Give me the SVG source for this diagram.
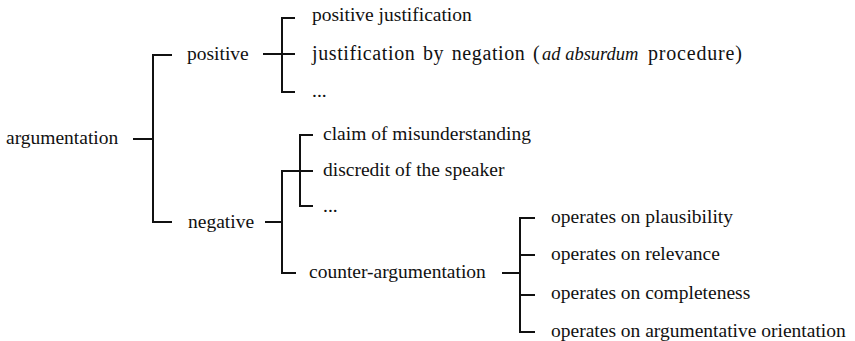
<svg xmlns="http://www.w3.org/2000/svg" width="855" height="341" viewBox="0 0 855 341">
<style>
text{font-family:"Liberation Serif","Times New Roman",serif;font-size:19.5px;fill:#111}
.c{fill:none;stroke:#111;stroke-width:2;stroke-linecap:butt}
</style>
<rect width="855" height="341" fill="#fff"/>
<g id="connectors" class="c">
<path d="M133 139H153M153 54V223M152 55H172M152 222H172"/>
<path d="M263 54H295M282 17V93M281 18H295M281 92H295"/>
<path d="M265 222H282M282 170V274M281 273H296"/>
<path d="M281 171H313M300 134V207M299 135H313M299 206H313"/>
<path d="M502 273H520M520 217V333M519 218H535M519 255H535M519 295H535M519 332H535"/>
</g>
<g id="argumentation"><text x="6" y="144">argumentation</text></g>
<g id="positive"><text x="187" y="60">positive</text></g>
<g id="negative"><text x="188" y="228">negative</text></g>
<g id="positive-justification"><text x="312" y="21">positive justification</text></g>
<g id="justification-by-negation"><text y="60" style="font-size:20px"><tspan x="312" letter-spacing="0.6" word-spacing="2">justification by negation (</tspan><tspan x="542" font-style="italic" style="font-size:18.5px">ad absurdum</tspan><tspan x="648" letter-spacing="0.8">procedure)</tspan></text></g>
<g id="positive-etc"><text x="312" y="97">...</text></g>
<g id="claim-of-misunderstanding"><text x="323" y="140">claim of misunderstanding</text></g>
<g id="discredit-of-the-speaker"><text x="323" y="176">discredit of the speaker</text></g>
<g id="negative-etc"><text x="323" y="212">...</text></g>
<g id="counter-argumentation"><text x="309" y="278">counter-argumentation</text></g>
<g id="plausibility"><text x="551" y="223">operates on plausibility</text></g>
<g id="relevance"><text x="551" y="260">operates on relevance</text></g>
<g id="completeness"><text x="551" y="299">operates on completeness</text></g>
<g id="argumentative-orientation"><text x="551" y="337">operates on argumentative orientation</text></g>
</svg>
